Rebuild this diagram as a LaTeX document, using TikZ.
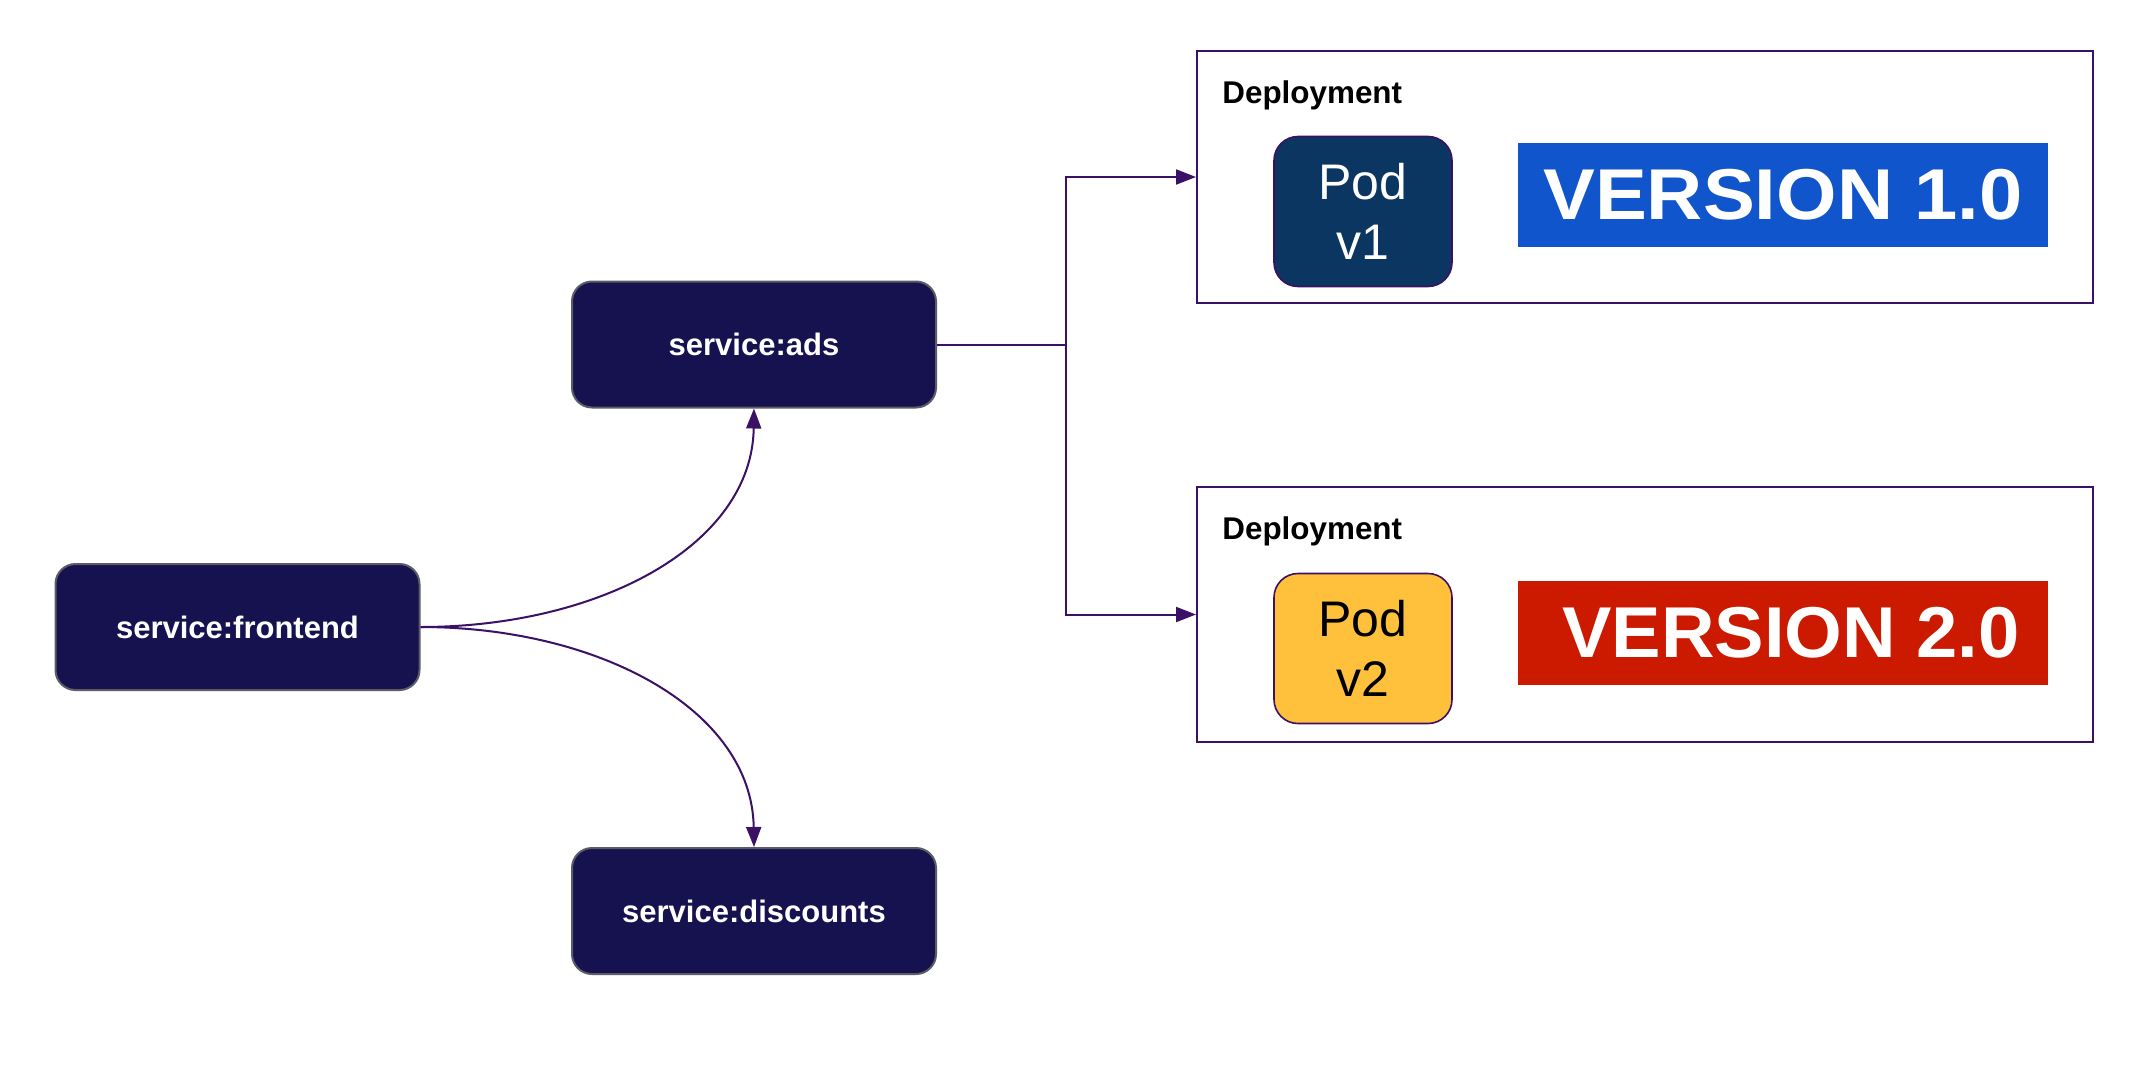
\documentclass[tikz,border=0pt]{standalone}
\usepackage{fontspec}
\setmainfont{Liberation Sans}
\usetikzlibrary{arrows.meta}
\definecolor{svcfill}{HTML}{15124F}
\definecolor{svcborder}{HTML}{5C5C66}
\definecolor{conn}{HTML}{3B1166}
\definecolor{podone}{HTML}{0B3661}
\definecolor{podtwo}{HTML}{FFC13B}
\definecolor{bannerblue}{HTML}{1155CC}
\definecolor{bannerred}{HTML}{CC1A00}
\tikzset{
  svc/.style={rectangle, rounded corners=10pt, draw=svcborder, line width=1pt, fill=svcfill,
    text=white, font=\fontsize{15.5}{18}\selectfont\bfseries,
    minimum width=182pt, minimum height=63pt, inner sep=0pt},
  depbox/.style={rectangle, draw=conn, line width=1pt, fill=white,
    minimum width=448pt, minimum height=126pt, inner sep=0pt},
  deplabel/.style={anchor=west, font=\fontsize{15.7}{18}\selectfont\bfseries, inner sep=0pt},
  pod/.style={rectangle, rounded corners=12pt, draw=conn, line width=0.8pt,
    minimum width=89pt, minimum height=75pt, inner sep=0pt, align=center,
    font=\fontsize{25}{30}\selectfont},
  banner/.style={rectangle, minimum width=265pt, minimum height=52pt, inner sep=0pt,
    text=white, font=\fontsize{36}{40}\selectfont\bfseries},
  link/.style={draw=conn, line width=1pt},
  tip/.style={-{Triangle[length=10pt,width=7.5pt]}}
}
\begin{document}
\begin{tikzpicture}[x=0.5pt,y=-0.5pt]
\useasboundingbox (0,0) rectangle (2152,1076);
\fill[white] (0,0) rectangle (2152,1076);

\node[svc] (frontend) at (237.5,627) {service:frontend};
\node[svc] (ads) at (754,344.5) {service:ads};
\node[svc] (discounts) at (754,911) {service:discounts};

\node[depbox] (dep1) at (1645,177) {};
\node[depbox, minimum height=127.5pt] (dep2) at (1645,614.5) {};

\node[deplabel] (lab1) at (1222,95) {Deployment};
\node[deplabel] (lab2) at (1222,531) {Deployment};

\node[pod, fill=podone, text=white] (pod1) at (1363,211.5) {Pod\\v1};
\node[pod, fill=podtwo, text=black] (pod2) at (1363,648.5) {Pod\\v2};

\node[banner, fill=bannerblue] (ver1) at (1783,195) {\scalebox{1.08}[1]{VERSION 1.0}};
\node[banner, fill=bannerred] (ver2) at (1783,633) {\hspace{8pt}\scalebox{1.03}[1]{VERSION 2.0}};

\coordinate (junc) at (1066,344.5);
\draw[link] (ads.east) -- (junc);
\draw[link, tip] (junc) |- (dep1.west);
\draw[link, tip] (junc) |- (dep2.west);

\draw[link, tip] (frontend.east) .. controls (600,627) and (752,545) .. (ads.south);
\draw[link, tip] (frontend.east) .. controls (600,627) and (752,710) .. (discounts.north);
\end{tikzpicture}
\end{document}
